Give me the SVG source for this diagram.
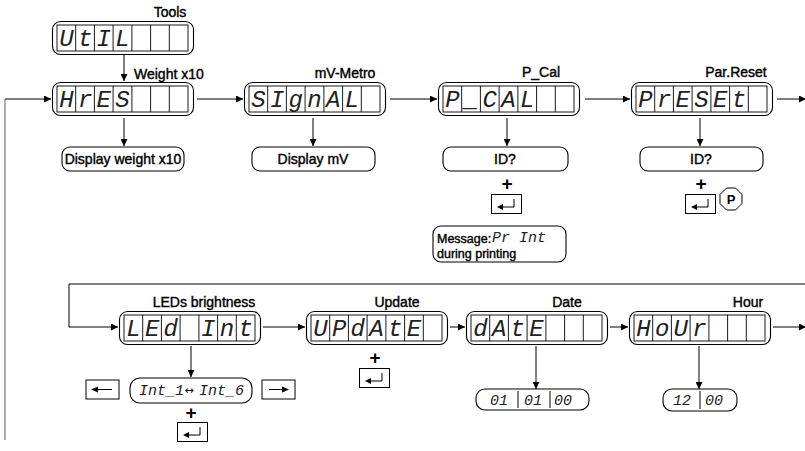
<svg xmlns="http://www.w3.org/2000/svg" xmlns:xlink="http://www.w3.org/1999/xlink" width="805" height="451" viewBox="0 0 805 451">
<defs>
<style>
.lbl{font-family:"Liberation Sans",Arial,sans-serif;font-size:14px;fill:#000;stroke:#000;stroke-width:0.4}
.s12{font-size:12.5px}
.plus{font-family:"Liberation Sans",Arial,sans-serif;font-size:19px;font-weight:bold;fill:#000;text-anchor:middle}
.pk{font-family:"Liberation Sans",Arial,sans-serif;font-size:13px;font-weight:bold;fill:#000;text-anchor:middle}
.seg{font-family:"Liberation Mono","DejaVu Sans Mono",monospace;font-style:italic;font-size:24px;fill:#222;text-anchor:middle}
.segs{font-family:"Liberation Mono","DejaVu Sans Mono",monospace;font-style:italic;font-size:15px;fill:#222}
.box{fill:#fff;stroke:#000;stroke-width:1.1}
.cell{fill:none;stroke:#000;stroke-width:0.9}
.ln{fill:none;stroke:#000;stroke-width:1}
.key{fill:#fff;stroke:#000;stroke-width:1}
.mid{text-anchor:middle}
</style>
<marker id="ah" viewBox="0 0 10 10" refX="10" refY="5" markerWidth="8" markerHeight="7" markerUnits="userSpaceOnUse" orient="auto">
<path d="M0,0 L10,5 L0,10 z" fill="#000"/>
</marker>
<g id="disp">
<rect class="box" x="0.5" y="0.5" width="141" height="33" rx="8"/>
<rect class="cell" x="5" y="4" width="131" height="26"/>
<path class="cell" d="M23.7,4V30M42.4,4V30M61.1,4V30M79.9,4V30M98.6,4V30M117.3,4V30"/>
</g>
<g id="enter">
<rect class="key" x="0.5" y="0.5" width="30" height="19"/>
<path d="M23,5V13H11" class="ln" stroke-width="1.4"/>
<path d="M6,13L12,10V16z" fill="#000"/>
</g>
</defs>
<rect width="805" height="451" fill="#fff"/>

<g id="connectors">
<path class="ln" d="M124,55V81" marker-end="url(#ah)"/>
<path d="M5,440V99" fill="none" stroke="#777" stroke-width="1.2"/>
<path class="ln" d="M5,99H51" marker-end="url(#ah)"/>
<path class="ln" d="M197,99H243" marker-end="url(#ah)"/>
<path class="ln" d="M390,99H437" marker-end="url(#ah)"/>
<path class="ln" d="M585,99H630" marker-end="url(#ah)"/>
<path class="ln" d="M777,99H806" marker-end="url(#ah)"/>
<path class="ln" d="M124,118V146" marker-end="url(#ah)"/>
<path class="ln" d="M313,118V146" marker-end="url(#ah)"/>
<path class="ln" d="M507,118V146" marker-end="url(#ah)"/>
<path class="ln" d="M700,118V146" marker-end="url(#ah)"/>
<path class="ln" d="M805,284H69V327H118" marker-end="url(#ah)"/>
<path class="ln" d="M263,327H305" marker-end="url(#ah)"/>
<path class="ln" d="M450,327H465" marker-end="url(#ah)"/>
<path class="ln" d="M610,327H628" marker-end="url(#ah)"/>
<path class="ln" d="M773,327H806" marker-end="url(#ah)"/>
<path class="ln" d="M191,346V377" marker-end="url(#ah)"/>
<path class="ln" d="M536,346V389" marker-end="url(#ah)"/>
<path class="ln" d="M699,346V389" marker-end="url(#ah)"/>
</g>

<g id="util">
<text class="lbl mid" x="170" y="17">Tools</text>
<use xlink:href="#disp" x="52" y="21"/>
<g class="seg" transform="translate(52,21)">
<text x="14.4" y="25">U</text><text x="33.1" y="25">t</text><text x="51.8" y="25">I</text><text x="70.5" y="25">L</text>
</g>
</g>

<g id="hres">
<text class="lbl" x="134" y="79">Weight x10</text>
<use xlink:href="#disp" x="52" y="82"/>
<g class="seg" transform="translate(52,82)">
<text x="14.4" y="25">H</text><text x="33.1" y="25">r</text><text x="51.8" y="25">E</text><text x="70.5" y="25">S</text>
</g>
</g>
<g id="disp-weight">
<rect class="box" x="62" y="147" width="122" height="24" rx="8"/>
<text class="lbl mid" x="123" y="164">Display weight x10</text>
</g>

<g id="signal">
<text class="lbl mid" x="345" y="78">mV-Metro</text>
<use xlink:href="#disp" x="244" y="82"/>
<g class="seg" transform="translate(244,82)">
<text x="14.4" y="25">S</text><text x="33.1" y="25">I</text><text x="51.8" y="25">g</text><text x="70.5" y="25">n</text><text x="89.3" y="25">A</text><text x="108" y="25">L</text>
</g>
</g>
<g id="disp-mv">
<rect class="box" x="252" y="147" width="123" height="24" rx="8"/>
<text class="lbl mid" x="313" y="164">Display mV</text>
</g>

<g id="pcal">
<text class="lbl mid" x="541" y="77">P_Cal</text>
<use xlink:href="#disp" x="438" y="82"/>
<g class="seg" transform="translate(438,82)">
<text x="14.4" y="25">P</text><text x="33.1" y="25">_</text><text x="51.8" y="25">C</text><text x="70.5" y="25">A</text><text x="89.3" y="25">L</text>
</g>
</g>
<g id="pcal-id">
<rect class="box" x="443" y="147" width="125" height="24" rx="8"/>
<text class="lbl mid" x="505" y="164">ID?</text>
<text class="plus" x="507" y="190">+</text>
<use xlink:href="#enter" x="491" y="194"/>
</g>
<g id="message">
<rect class="box" x="433" y="226" width="133" height="36" rx="8"/>
<text class="lbl s12" x="437" y="243">Message:</text>
<text class="segs" x="492" y="242">Pr Int</text>
<text class="lbl s12" x="437" y="258">during printing</text>
</g>

<g id="preset">
<text class="lbl mid" x="736" y="77">Par.Reset</text>
<use xlink:href="#disp" x="631" y="82"/>
<g class="seg" transform="translate(631,82)">
<text x="14.4" y="25">P</text><text x="33.1" y="25">r</text><text x="51.8" y="25">E</text><text x="70.5" y="25">S</text><text x="89.3" y="25">E</text><text x="108" y="25">t</text>
</g>
</g>
<g id="preset-id">
<rect class="box" x="640" y="147" width="123" height="24" rx="8"/>
<text class="lbl mid" x="701" y="164">ID?</text>
<text class="plus" x="701" y="190">+</text>
<use xlink:href="#enter" x="685" y="194"/>
<polygon class="key" points="735.5,188 742,194.5 742,203.5 735.5,210 726.5,210 720,203.5 720,194.5 726.5,188"/>
<text class="pk" x="731" y="204">P</text>
</g>

<g id="led">
<text class="lbl mid" x="204" y="307">LEDs brightness</text>
<use xlink:href="#disp" x="119" y="311"/>
<g class="seg" transform="translate(119,311)">
<text x="14.4" y="25">L</text><text x="33.1" y="25">E</text><text x="51.8" y="25">d</text><text x="89.3" y="25">I</text><text x="108" y="25">n</text><text x="126.7" y="25">t</text>
</g>
</g>
<g id="led-int">
<rect class="box" x="130" y="378" width="122" height="25" rx="10"/>
<text class="segs" x="139" y="395">Int_1</text>
<text x="189" y="394" font-family="DejaVu Sans,sans-serif" font-size="11" text-anchor="middle">↔</text>
<text class="segs" x="199" y="395">Int_6</text>
<rect class="key" x="86" y="380" width="33" height="19"/>
<path class="ln" d="M112,389.5H96"/><path d="M91,389.5L98,386.5V392.5z" fill="#000"/>
<rect class="key" x="262" y="380" width="33" height="19"/>
<path class="ln" d="M269,389.5H284"/><path d="M289,389.5L282,386.5V392.5z" fill="#000"/>
<text class="plus" x="191" y="419">+</text>
<use xlink:href="#enter" x="177" y="422"/>
</g>

<g id="update">
<text class="lbl mid" x="397" y="307">Update</text>
<use xlink:href="#disp" x="306" y="311"/>
<g class="seg" transform="translate(306,311)">
<text x="14.4" y="25">U</text><text x="33.1" y="25">P</text><text x="51.8" y="25">d</text><text x="70.5" y="25">A</text><text x="89.3" y="25">t</text><text x="108" y="25">E</text>
</g>
<text class="plus" x="375" y="364">+</text>
<use xlink:href="#enter" x="359" y="368"/>
</g>

<g id="date">
<text class="lbl mid" x="567" y="307">Date</text>
<use xlink:href="#disp" x="466" y="311"/>
<g class="seg" transform="translate(466,311)">
<text x="14.4" y="25">d</text><text x="33.1" y="25">A</text><text x="51.8" y="25">t</text><text x="70.5" y="25">E</text>
</g>
</g>
<g id="date-val">
<rect class="box" x="476" y="389" width="113" height="21" rx="9"/>
<text class="segs" x="490" y="405">01</text>
<path class="ln" d="M518,391V408M550,391V408"/>
<text class="segs" x="524" y="405">01</text>
<text class="segs" x="554" y="405">00</text>
</g>

<g id="hour">
<text class="lbl mid" x="748" y="307">Hour</text>
<use xlink:href="#disp" x="629" y="311"/>
<g class="seg" transform="translate(629,311)">
<text x="14.4" y="25">H</text><text x="33.1" y="25">o</text><text x="51.8" y="25">U</text><text x="70.5" y="25">r</text>
</g>
</g>
<g id="hour-val">
<rect class="box" x="663" y="389" width="74" height="22" rx="9"/>
<text class="segs" x="673" y="405">12</text>
<path class="ln" d="M700,391V409"/>
<text class="segs" x="705" y="405">00</text>
</g>
</svg>
